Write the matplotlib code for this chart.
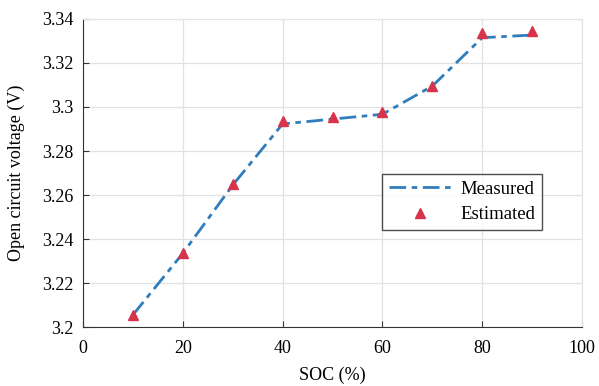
import matplotlib.pyplot as plt
import numpy as np

# SOC vs OCV data
soc = [10, 20, 30, 40, 50, 60, 70, 80, 90]
ocv_measured = [3.2055, 3.2335, 3.2645, 3.2923, 3.2945, 3.2967, 3.3095, 3.3315, 3.3327]
ocv_estimated = [3.2055, 3.2335, 3.2650, 3.2938, 3.2956, 3.2977, 3.3097, 3.3335, 3.3345]

xticks = [0, 20, 40, 60, 80, 100]
yticks = [3.2, 3.22, 3.24, 3.26, 3.28, 3.3, 3.32, 3.34]
ytick_labels = ["3.2", "3.22", "3.24", "3.26", "3.28", "3.3", "3.32", "3.34"]

plt.rcParams['font.family'] = ['Liberation Serif', 'DejaVu Serif']

fig = plt.figure(figsize=(5.99, 3.86), dpi=100)
ax = fig.add_axes([0.1386, 0.1528, 0.833, 0.798])

ax.plot(soc, ocv_measured, color="#2f7dbd", linestyle="-.", linewidth=2,
        dashes=(6, 2, 2, 2), label="Measured", zorder=3)
ax.plot(soc, ocv_estimated, color="#d7344c", linestyle="none", marker="^",
        markersize=7.5, label="Estimated", zorder=4)

ax.set_xlim(0, 100)
ax.set_ylim(3.2, 3.34)
ax.set_xticks(xticks)
ax.set_yticks(yticks)
ax.set_yticklabels(ytick_labels)
ax.tick_params(direction="in", labelsize=13, length=4, color="#333333")
ax.tick_params(axis="x", pad=9)
ax.tick_params(axis="y", pad=7)
ax.grid(True, color="#e2e2e2", linewidth=0.9)
ax.set_axisbelow(True)

for s in ["left", "bottom"]:
    ax.spines[s].set_color("#333333")
for s in ["top", "right"]:
    ax.spines[s].set_color("#e2e2e2")

ax.set_xlabel("SOC (%)", fontsize=13, labelpad=7)
ax.set_ylabel("Open circuit voltage (V)", fontsize=13, labelpad=12)

leg = ax.legend(loc="upper left", bbox_to_anchor=(0.6, 0.497), fontsize=13.5,
                frameon=True, fancybox=False, edgecolor="#222222",
                handlelength=3.3, handletextpad=0.5, borderpad=0.35,
                labelspacing=0.45, borderaxespad=0)
leg.get_frame().set_linewidth(1.0)

fig.savefig("out.png", dpi=100)
